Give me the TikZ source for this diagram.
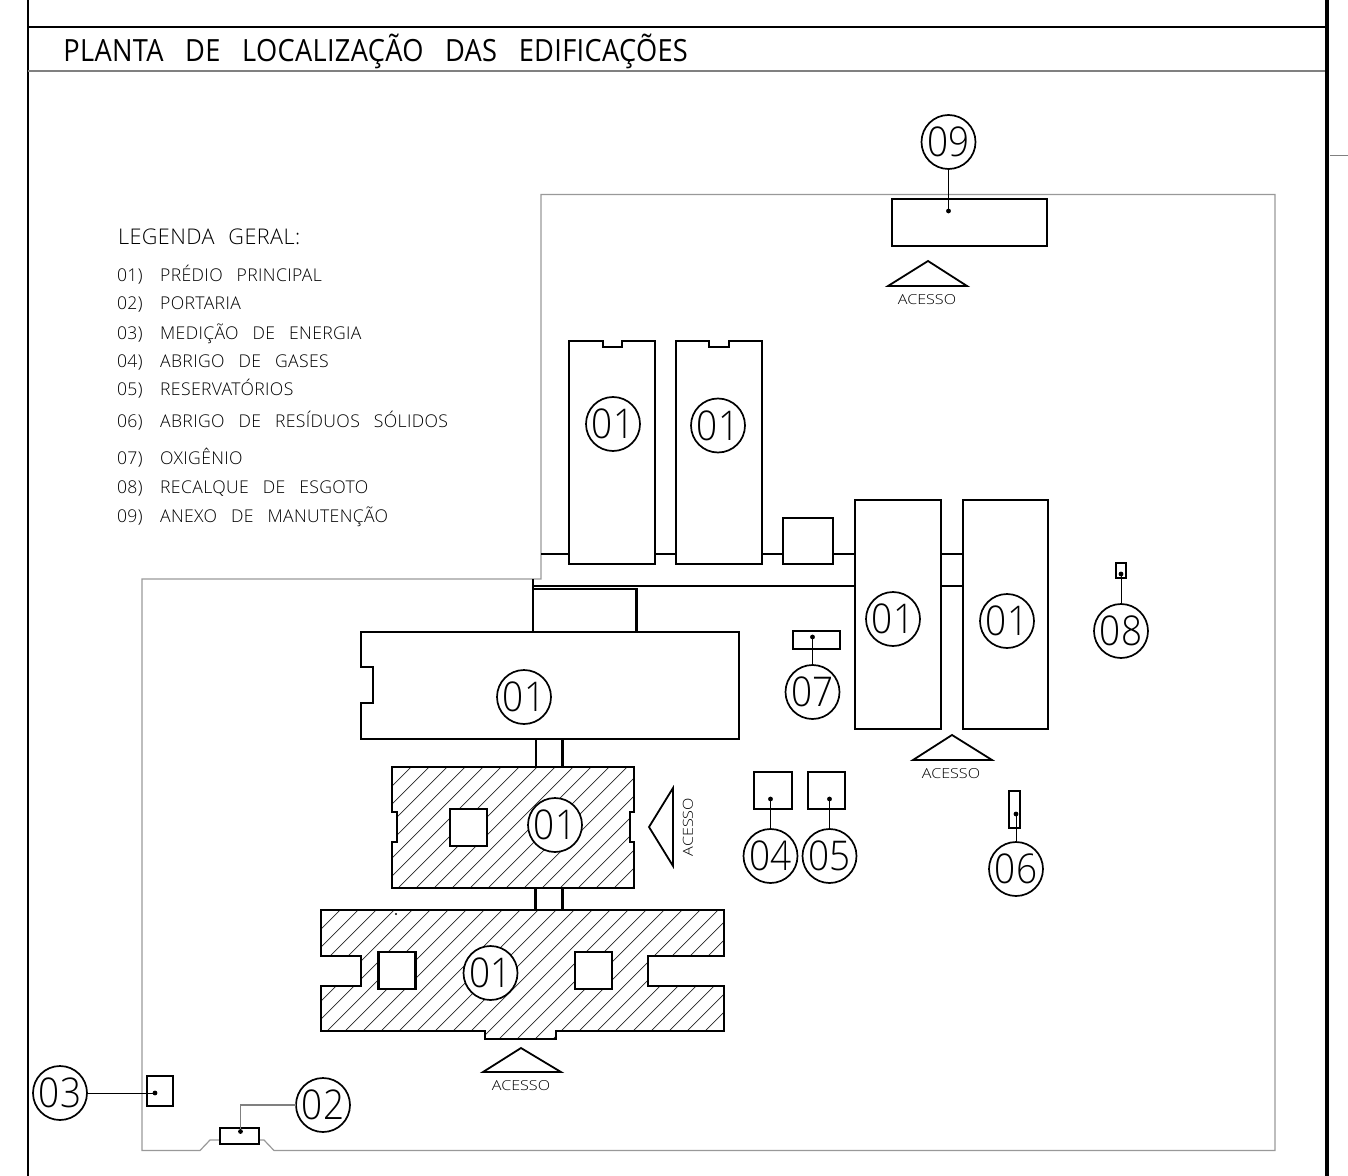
\documentclass[tikz,border=0pt]{standalone}
\usepackage{fontspec}
\setmainfont{Liberation Sans}
\newfontfamily\titlef[FakeStretch=0.89,LetterSpace=1]{Open Sans}
\newfontfamily\legf[FakeStretch=1.0,LetterSpace=2]{Open Sans Light}
\newfontfamily\numf[FakeStretch=0.9]{Open Sans Light}
\newfontfamily\acf[FakeStretch=1.17]{Open Sans Light}
\definecolor{sitegray}{gray}{0.6}
\definecolor{rulegray}{gray}{0.5}
\tikzset{
  wall/.style={line width=1.15pt,black,line join=miter},
  site/.style={line width=0.6pt,sitegray},
  hatchline/.style={line width=0.35pt,black!85},
  tag/.style={circle,draw,line width=0.85pt,fill=white,minimum size=27pt,inner sep=0pt,outer sep=0pt,font=\numf\fontsize{20.5}{20.5}\selectfont},
  box/.style={rectangle,draw,line width=1.15pt,fill=white,inner sep=0pt,outer sep=0pt},
  pin/.style={circle,fill=black,inner sep=0pt,minimum size=2.4pt,outer sep=0pt},
  leader/.style={line width=0.5pt,black},
  entry/.style={anchor=base west,inner sep=0pt,outer sep=0pt,font=\legf\fontsize{8.8}{8.8}\selectfont},
  acc/.style={inner sep=0pt,outer sep=0pt,font=\acf\fontsize{6.9}{7}\selectfont},
  tri/.style={line width=0.9pt,black,line join=miter},
}
\newcommand{\wsp}{\spaceskip=7pt plus 0pt\relax}
\newcommand{\lnum}[1]{\makebox[21.6pt][l]{#1}}
\begin{document}
\begin{tikzpicture}[x=0.5pt,y=-0.5pt]
\useasboundingbox (0,0) rectangle (1348,1176);
% sheet frame
\coordinate (fTL) at (28,27); \coordinate (fTR) at (1325,27);
\draw[line width=0.7pt] (28,0) -- (28,1176);
\draw[line width=0.7pt] (fTL) -- (fTR);
\draw[line width=1pt,rulegray] (28,71.5) -- (1325,71.5);
\draw[line width=2.2pt] (1327,0) -- (1327,1176);
\draw[line width=0.6pt,rulegray] (1330,155.5) -- (1348,155.5);
\node[anchor=base west,inner sep=0pt] (title) at (63,62) {\titlef\fontsize{15.3}{16}\selectfont\spaceskip=10.8pt\relax PLANTA DE LOCALIZAÇÃO DAS EDIFICAÇÕES};
% site boundary
\draw[site] (541,579) -- (541,194.5) -- (1275,194.5) -- (1275,1150.5) -- (274,1150.5) -- (264,1140) -- (210,1140) -- (200,1150.5) -- (142,1150.5) -- (142,579) -- cycle;
% legend
\node[entry,font=\legf\fontsize{10.8}{10.8}\selectfont] (lg0) at (118,245) {\wsp LEGENDA GERAL:};
\node[entry] (lg1) at (117,281.5) {\wsp \lnum{01)}PRÉDIO PRINCIPAL};
\node[entry] (lg2) at (117,310) {\wsp \lnum{02)}PORTARIA};
\node[entry] (lg3) at (117,340) {\wsp \lnum{03)}MEDIÇÃO DE ENERGIA};
\node[entry] (lg4) at (117,367.7) {\wsp \lnum{04)}ABRIGO DE GASES};
\node[entry] (lg5) at (117,395.7) {\wsp \lnum{05)}RESERVATÓRIOS};
\node[entry] (lg6) at (117,427.7) {\wsp \lnum{06)}ABRIGO DE RESÍDUOS SÓLIDOS};
\node[entry] (lg7) at (117,464) {\wsp \lnum{07)}OXIGÊNIO};
\node[entry] (lg8) at (117,493) {\wsp \lnum{08)}RECALQUE DE ESGOTO};
\node[entry] (lg9) at (117,522) {\wsp \lnum{09)}ANEXO DE MANUTENÇÃO};
% walkways
\draw[wall] (541,554) -- (569,554) (655,554) -- (676,554) (762,554) -- (783,554) (833,554) -- (855,554) (941,554) -- (963,554);
\draw[wall,line width=1pt] (533,586) -- (855,586) (941,586) -- (963,586);
\draw[wall] (533,579) -- (533,589);
\draw[wall] (536,739) -- (536,767) (562.5,739) -- (562.5,767);
\draw[wall] (535.5,888) -- (535.5,910) (562.5,888) -- (562.5,910);
% upper blocks
\draw[wall] (569,341) -- (603,341) -- (603,347) -- (622,347) -- (622,341) -- (655,341) -- (655,564) -- (569,564) -- cycle;
\draw[wall] (676,341) -- (709,341) -- (709,347) -- (729,347) -- (729,341) -- (762,341) -- (762,564) -- (676,564) -- cycle;
\node[box,minimum width=25pt,minimum height=23pt] (sq) at (808,541) {};
\draw[wall] (855,500) rectangle (941,729);
\draw[wall] (963,500) rectangle (1048,729);
\draw[wall] (533,632) -- (533,589) -- (636.5,589) -- (636.5,632);
\draw[wall] (361,632) -- (739,632) -- (739,739) -- (361,739) -- (361,703) -- (373,703) -- (373,667) -- (361,667) -- cycle;
% hatched blocks
\def\gpath{(392,767) -- (634,767) -- (634,812) -- (630,812) -- (630,842) -- (634,842) -- (634,888) -- (392,888) -- (392,842) -- (397,842) -- (397,812) -- (392,812) -- cycle}
\def\hpath{(321,910) -- (724,910) -- (724,956) -- (648,956) -- (648,986) -- (724,986) -- (724,1031) -- (556,1031) -- (556,1039) -- (485,1039) -- (485,1031) -- (321,1031) -- (321,986) -- (361,986) -- (361,956) -- (321,956) -- cycle}
\begin{scope}
\clip \gpath;
\foreach \k in {-2,...,33} {\pgfmathsetmacro{\c}{1178+18*\k}
  \draw[hatchline] ({\c-750},750) -- ({\c-1050},1050);}
\end{scope}
\begin{scope}
\clip \hpath;
\foreach \k in {-2,...,33} {\pgfmathsetmacro{\c}{1178+18*\k}
  \draw[hatchline] ({\c-750},750) -- ({\c-1050},1050);}
\end{scope}
\draw[wall] \gpath;
\draw[wall] \hpath;
\node[box,minimum width=18.5pt,minimum height=18.5pt] (g1) at (468.5,827.5) {};
\node[box,minimum width=18.5pt,minimum height=18.5pt] (h1) at (397,970.5) {};
\node[box,minimum width=18.5pt,minimum height=18.5pt] (h2) at (593.5,970.5) {};
\node[pin,minimum size=1.2pt] (speck) at (396,914) {};
% numbered tags on blocks
\node[tag] (t1a) at (613,424) {01};
\node[tag] (t1b) at (718,425.5) {01};
\node[tag] (t1c) at (893,619) {01};
\node[tag] (t1d) at (1007,621) {01};
\node[tag] (t1f) at (524,697) {01};
\node[tag] (t1g) at (555,825) {01};
\node[tag] (t1h) at (490.5,973) {01};
% access triangles
\draw[tri] (888,286) -- (928,261) -- (967,286) -- cycle;
\node[acc] (ac1) at (927,300) {ACESSO};
\draw[tri] (913,760) -- (952,735) -- (992,760) -- cycle;
\node[acc] (ac2) at (951,773.5) {ACESSO};
\draw[tri] (483,1072) -- (521,1048) -- (561,1072) -- cycle;
\node[acc] (ac3) at (521,1086) {ACESSO};
\draw[tri] (673,788) -- (649,827) -- (673,866) -- cycle;
\node[acc,rotate=90] (ac4) at (688,827) {ACESSO};
% annexes with leaders
\node[box,minimum width=77.5pt,minimum height=23.5pt] (b9) at (969.5,222.5) {};
\node[tag] (t9) at (948.5,142) {09};
\node[pin] (p9) at (948.5,211) {};
\draw[leader] (t9) -- (p9);
\node[box,minimum width=23.5pt,minimum height=9pt] (b7) at (816.5,640) {};
\node[tag] (t7) at (812.5,692) {07};
\node[pin] (p7) at (812.5,637) {};
\draw[leader] (t7) -- (p7);
\node[box,minimum width=5pt,minimum height=7.5pt] (b8) at (1121,570.5) {};
\node[tag] (t8) at (1121,631) {08};
\node[pin] (p8) at (1121,574) {};
\draw[leader] (t8) -- (p8);
\node[box,minimum width=19pt,minimum height=18.5pt] (b4) at (773,790.5) {};
\node[tag] (t4) at (770.5,856) {04};
\node[pin] (p4) at (770.5,799) {};
\draw[leader] (t4) -- (p4);
\node[box,minimum width=18.5pt,minimum height=18.5pt] (b5) at (826.5,790.5) {};
\node[tag] (t5) at (829.5,856) {05};
\node[pin] (p5) at (829.5,799) {};
\draw[leader] (t5) -- (p5);
\node[box,minimum width=5.5pt,minimum height=18.5pt] (b6) at (1014.5,809.5) {};
\node[tag] (t6) at (1016,869) {06};
\node[pin] (p6) at (1016,814) {};
\draw[leader] (t6) -- (p6);
\node[box,minimum width=13pt,minimum height=15pt] (b3) at (159.7,1091) {};
\node[tag] (t3) at (60,1093) {03};
\node[pin] (p3) at (155,1093) {};
\draw[leader] (t3) -- (p3);
\node[box,minimum width=19.5pt,minimum height=8pt] (b2) at (239.5,1136) {};
\node[tag] (t2) at (323,1105) {02};
\node[pin] (p2) at (240.5,1131.5) {};
\draw[leader,line width=0.7pt,rulegray] (t2.west) -| (p2);
\end{tikzpicture}
\end{document}
